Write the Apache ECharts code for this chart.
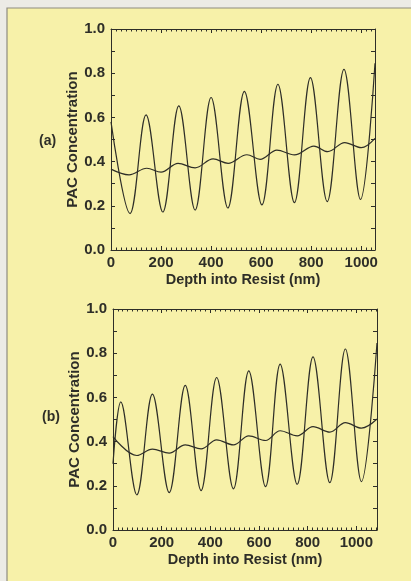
<!DOCTYPE html>
<html>
<head>
<meta charset="utf-8">
<script src="https://cdn.jsdelivr.net/npm/echarts@6/dist/echarts.min.js"></script>
<style>
  html, body { margin: 0; padding: 0; background: #ecebe6; }
  #chart { width: 411px; height: 581px; }
</style>
</head>
<body>
<div id="chart"></div>
<script>
const depthA = [0, 76, 140, 207, 271, 336, 400, 467, 533, 603, 667, 733, 797, 864, 931, 997, 1055]
const fastA = [0.58, 0.165, 0.611, 0.172, 0.652, 0.181, 0.69, 0.19, 0.718, 0.204, 0.75, 0.214, 0.78, 0.219, 0.817, 0.229, 0.845]
const slowDepthA = [0, 72, 143, 200, 268, 336, 408, 468, 543, 596, 663, 733, 811, 866, 934, 1000, 1055]
const slowA = [0.366, 0.34, 0.37, 0.352, 0.392, 0.372, 0.412, 0.392, 0.431, 0.41, 0.452, 0.43, 0.47, 0.445, 0.486, 0.463, 0.505]

// panel (b)
const depthB = [0, 32, 98, 162, 231, 297, 362, 426, 495, 558, 627, 687, 757, 822, 891, 955, 1021, 1085]
const fastB = [0.3, 0.58, 0.159, 0.615, 0.169, 0.654, 0.178, 0.69, 0.186, 0.72, 0.196, 0.751, 0.207, 0.783, 0.214, 0.819, 0.219, 0.846]
const slowDepthB = [0, 98, 162, 231, 297, 362, 426, 495, 558, 627, 687, 757, 822, 891, 955, 1021, 1085]
const slowB = [0.423, 0.337, 0.366, 0.348, 0.385, 0.367, 0.408, 0.385, 0.426, 0.405, 0.449, 0.426, 0.468, 0.443, 0.486, 0.461, 0.502]

const xMaxA = 1055
const xMaxB = 1085

const ink = '#2e2e28'
const font = 'Liberation Sans, Arial, sans-serif'

const pairs = (xs, ys) => xs.map((x, i) => [x, ys[i]])

function xAxes (grid, max) {
  const base = {
    gridIndex: grid,
    type: 'value',
    min: 0,
    max: max,
    interval: 200,
    axisLine: { show: true, onZero: false, lineStyle: { color: ink, width: 1 } },
    axisTick: { show: true, inside: true, length: 4, lineStyle: { color: ink } },
    minorTick: { show: true, splitNumber: 10, length: 2.5, lineStyle: { color: ink } },
    splitLine: { show: false }
  }
  return [
    Object.assign({}, base, {
      position: 'bottom',
      name: 'Depth into Resist (nm)',
      nameLocation: 'middle',
      nameGap: 22,
      nameTextStyle: { fontFamily: font, fontWeight: 'bold', fontSize: 14.5, color: ink },
      axisLabel: {
        margin: 5,
        fontFamily: font,
        fontWeight: 'bold',
        fontSize: 15,
        color: ink,
        showMaxLabel: false,
        formatter: v => String(v)
      }
    }),
    Object.assign({}, base, { position: 'top', axisLabel: { show: false } })
  ]
}

function yAxes (grid) {
  const base = {
    gridIndex: grid,
    type: 'value',
    min: 0,
    max: 1,
    interval: 0.2,
    axisLine: { show: true, onZero: false, lineStyle: { color: ink, width: 1 } },
    axisTick: { show: true, inside: true, length: 4, lineStyle: { color: ink } },
    minorTick: { show: true, splitNumber: 2, length: 4, lineStyle: { color: ink } },
    splitLine: { show: false }
  }
  return [
    Object.assign({}, base, {
      position: 'left',
      name: 'PAC Concentration',
      nameLocation: 'middle',
      nameGap: 31,
      nameMoveOverlap: false,
      nameTextStyle: { fontFamily: font, fontWeight: 'bold', fontSize: 15, color: ink },
      axisLabel: {
        margin: 6,
        fontFamily: font,
        fontWeight: 'bold',
        fontSize: 15,
        color: ink,
        formatter: v => v.toFixed(1)
      }
    }),
    Object.assign({}, base, { position: 'right', axisLabel: { show: false } })
  ]
}

function curve (data, axisIdx) {
  return {
    type: 'line',
    data: data,
    xAxisIndex: axisIdx,
    yAxisIndex: axisIdx,
    smooth: 0.36,
    showSymbol: false,
    lineStyle: { color: ink, width: 1.2 },
    silent: true
  }
}

const chart = echarts.init(document.getElementById('chart'))
chart.setOption({
  backgroundColor: '#ecebe6',
  animation: false,
  graphic: [
    {
      type: 'rect',
      z: -10,
      shape: { x: 7, y: 8, width: 420, height: 590 },
      style: { fill: '#f7f1a9', stroke: '#8e8c80', lineWidth: 1.2 }
    },
    {
      type: 'text',
      left: 39,
      top: 134,
      style: { text: '(a)', font: 'bold 14px ' + font, fill: ink }
    },
    {
      type: 'text',
      left: 42,
      top: 410,
      style: { text: '(b)', font: 'bold 14px ' + font, fill: ink }
    }
  ],
  grid: [
    { left: 111, top: 29, width: 264, height: 221 },
    { left: 113, top: 309, width: 264, height: 221 }
  ],
  xAxis: xAxes(0, xMaxA).concat(xAxes(1, xMaxB)),
  yAxis: yAxes(0).concat(yAxes(1)),
  series: [
    curve(pairs(depthA, fastA), 0),
    curve(pairs(slowDepthA, slowA), 0),
    curve(pairs(depthB, fastB), 2),
    curve(pairs(slowDepthB, slowB), 2)
  ]
})
</script>
</body>
</html>
